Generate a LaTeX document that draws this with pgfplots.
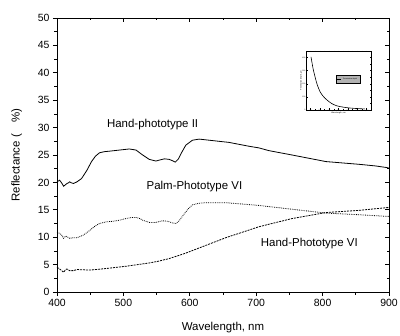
\documentclass[border=0pt]{standalone}
\usepackage{fontspec}
\setmainfont{Liberation Sans}
\usepackage{pgfplots}
\pgfplotsset{compat=1.18}
\begin{document}
\begin{tikzpicture}
\useasboundingbox (0,0) rectangle (400bp,336bp);
\begin{axis}[at={(57bp,44bp)}, anchor=south west, scale only axis,
  width=332bp, height=274bp,
  xmin=400, xmax=900, ymin=0, ymax=50,
  xtick={400,500,...,900}, ytick={0,5,...,50},
  minor x tick num=1, minor y tick num=1,
  xtick pos=bottom, ytick pos=left, tick align=outside,
  major tick length=4bp, minor tick length=2.5bp,
  every tick/.style={black, line width=0.7pt},
  axis line style={line width=0.7pt},
  tick label style={font=\fontsize{10.5}{12}\selectfont},
  label style={font=\fontsize{11.5}{13}\selectfont},
  /pgf/number format/assume math mode=true,
  xlabel={Wavelength, nm}, ylabel={Reflectance (\quad\%)},
  ylabel style={yshift=9bp}, xlabel style={yshift=-8bp},
  clip=false]
\addplot[black, line width=0.8pt] coordinates {
(400,20.1) (404,20.4) (407,19.9) (410,19.3) (413,19.6) (415,19.8) (417,19.9) (419,20.1) (422,19.9) (425,19.8) (430,20.1) (437,20.7) (445,22.2) (452,23.8) (458,24.8) (464,25.4) (471,25.6) (479,25.7) (494,25.9) (509,26.1) (519,25.9) (529,25.0) (539,24.2) (549,23.9) (555,24.1) (562,24.3) (569,24.2) (575,23.9) (578,23.7) (583,24.3) (587,25.3) (594,26.8) (604,27.7) (614,27.9) (629,27.7) (659,27.3) (689,26.6) (704,26.3) (719,25.8) (754,25.0) (805,23.8) (855,23.3) (880,23.0) (897,22.7) (900,22.6)};
\addplot[black, line width=0.8pt, densely dotted] coordinates {
(400,10.9) (404,10.7) (407,10.4) (410,9.8) (413,10.2) (415,10.1) (419,9.8) (425,9.9) (430,9.9) (440,10.4) (450,11.3) (457,12.0) (464,12.5) (474,12.8) (484,12.9) (494,13.1) (504,13.4) (512,13.6) (519,13.6) (525,13.4) (529,13.1) (539,12.7) (549,12.7) (559,13.0) (567,12.9) (574,12.6) (579,12.5) (584,13.0) (590,14.0) (597,15.1) (604,15.9) (614,16.2) (624,16.3) (654,16.3) (684,16.0) (704,15.8) (754,15.1) (805,14.4) (855,14.1) (897,13.8) (900,13.8)};
\addplot[black, line width=0.8pt, dash pattern=on 2pt off 1pt] coordinates {
(400,4.5) (404,4.2) (407,3.9) (410,3.6) (413,4.1) (415,4.2) (419,3.9) (425,3.9) (430,4.1) (450,4.0) (475,4.3) (504,4.7) (539,5.3) (552,5.6) (569,6.1) (594,7.1) (624,8.5) (654,9.9) (684,11.1) (704,11.9) (717,12.3) (754,13.4) (805,14.5) (855,14.9) (897,15.4) (900,15.4)};
\node[font=\fontsize{11.5}{13}\selectfont] at (axis cs:544,30.6) {Hand-phototype II};
\node[font=\fontsize{11.5}{13}\selectfont] at (axis cs:607,19.3) {Palm-Phototype VI};
\node[font=\fontsize{11.5}{13}\selectfont] at (axis cs:780,8.9) {Hand-Phototype VI};
\end{axis}
\begin{axis}[at={(57bp,44bp)}, anchor=south west, scale only axis,
  width=332bp, height=274bp,
  xmin=400, xmax=900, ymin=0, ymax=50,
  xtick={400,500,...,900}, ytick={0,5,...,50},
  minor x tick num=1, minor y tick num=1,
  xtick pos=top, ytick pos=right, tick align=inside,
  major tick length=4bp, minor tick length=2.5bp,
  every tick/.style={black, line width=0.7pt},
  axis line style={line width=0.7pt},
  xticklabels={}, yticklabels={}]
\end{axis}
\begin{axis}[at={(306bp,226bp)}, anchor=south west, scale only axis,
  width=65bp, height=59bp,
  xmin=400, xmax=1100, ymin=0, ymax=450,
  xtick={450,550,...,1050}, ytick={0,100,...,400},
  minor x tick num=1, minor y tick num=1,
  tick align=inside, major tick length=1.5bp, minor tick length=1bp,
  every tick/.style={black, line width=0.4pt},
  axis line style={line width=0.5pt},
  /pgf/number format/assume math mode=true,
  tick label style={font=\fontsize{1.8}{2.2}\selectfont, inner sep=0.5pt},
  label style={font=\fontsize{2}{2.4}\selectfont, inner sep=0.5pt},
  xlabel={Wavelength, nm}, ylabel={Penetration depth, µm},
  xlabel style={yshift=1bp}, ylabel style={yshift=-1bp},
  legend style={at={(0.65,0.52)}, anchor=center, fill=gray!60, draw=black, line width=0.5pt,
    font=\fontsize{1.8}{2}\selectfont, inner sep=0.3pt, outer sep=0pt},
  legend image code/.code={\draw[black, line width=0.3pt] (0bp,0bp) -- (4bp,0bp);},
  legend cell align=left]
\addplot[black, line width=0.6pt, smooth] coordinates {
(454,405) (475,320) (497,254) (520,195) (551,140) (585,105) (623,78) (675,50) (731,32) (800,22) (874,15) (950,11) (1035,8)};
\addlegendentry{Penetration depth~~}
\end{axis}
\end{tikzpicture}
\end{document}
